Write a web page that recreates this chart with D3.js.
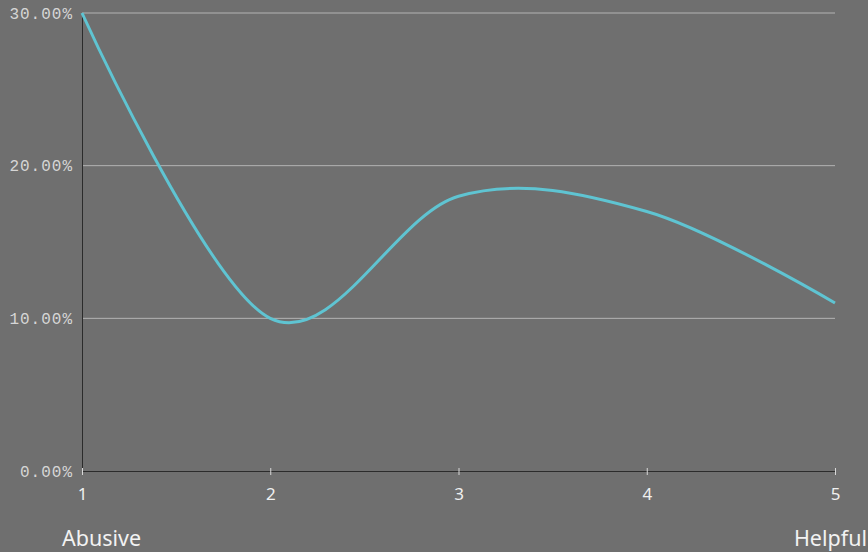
<!DOCTYPE html>
<html>
<head>
<meta charset="utf-8">
<script src="https://cdn.jsdelivr.net/npm/d3@7"></script>
<style>
  html, body { margin: 0; padding: 0; background: #6f6f6f; }
  svg { display: block; }
</style>
</head>
<body>
<svg id="chart" width="868" height="552"></svg>
<script>
// Rating scale 1 (abusive) .. 5 (helpful) and share of responses at each step
const ratings = [1, 2, 3, 4, 5];
const shares = [0.30, 0.10, 0.18, 0.17, 0.11];
const yTicks = [0, 0.10, 0.20, 0.30];
const endLabels = ["Abusive", "Helpful"];

const W = 868, H = 552;
const margin = { top: 13, right: 33, bottom: 81, left: 82 };

const svg = d3.select("#chart");
svg.append("rect").attr("width", W).attr("height", H).attr("fill", "#6f6f6f");

const x = d3.scaleLinear().domain([1, 5]).range([margin.left, W - margin.right]);
const y = d3.scaleLinear().domain([0, 0.30]).range([H - margin.bottom, margin.top]);

// horizontal gridlines
svg.append("g")
  .selectAll("line")
  .data(yTicks.filter(d => d > 0))
  .join("line")
  .attr("x1", x(1)).attr("x2", x(5))
  .attr("y1", d => y(d)).attr("y2", d => y(d))
  .attr("stroke", "#b4b4b4").attr("stroke-width", 1);

// y axis
const yAxis = svg.append("g")
  .attr("transform", `translate(${margin.left},0)`)
  .call(d3.axisLeft(y).tickValues(yTicks).tickFormat(d3.format(".2%")).tickSize(0).tickPadding(9));
yAxis.select(".domain").attr("stroke", "#2b2b2b");
yAxis.selectAll("text")
  .attr("fill", "#d6d6d6")
  .style("font-family", "'Liberation Mono', monospace")
  .style("font-size", "16px")
  .style("letter-spacing", "1px");

// x axis
const xAxis = svg.append("g")
  .attr("transform", `translate(0,${H - margin.bottom})`)
  .call(d3.axisBottom(x).tickValues(ratings).tickFormat(d3.format("d")).tickSize(4).tickPadding(13));
xAxis.select(".domain").attr("stroke", "#2b2b2b");
xAxis.selectAll(".tick line").attr("y1", -3).attr("y2", 4).attr("stroke", "#d8d8d8");
xAxis.selectAll("text")
  .attr("fill", "#f0f0f0")
  .style("font-family", "'Noto Sans', sans-serif")
  .style("font-size", "17px");

// end-of-scale captions
svg.append("g")
  .selectAll("text")
  .data(endLabels)
  .join("text")
  .attr("x", (d, i) => i === 0 ? x(1) - 20 : W - 1)
  .attr("y", H - 6)
  .attr("text-anchor", (d, i) => i === 0 ? "start" : "end")
  .attr("fill", "#f2f2f2")
  .style("font-family", "'Noto Sans', sans-serif")
  .style("font-size", "21.5px")
  .text(d => d);

// smoothed share curve
const line = d3.line()
  .x((d, i) => x(ratings[i]))
  .y(d => y(d))
  .curve(d3.curveCardinal);

svg.append("path")
  .datum(shares)
  .attr("d", line)
  .attr("fill", "none")
  .attr("stroke", "#5fc4d2")
  .attr("stroke-width", 3);
</script>
</body>
</html>
